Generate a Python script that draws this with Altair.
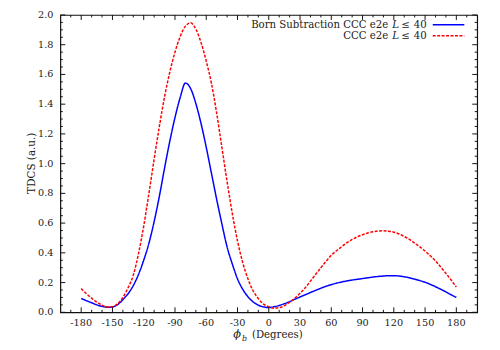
import altair as alt
import pandas as pd

# ---- data ----
phi = list(range(-180, 181, 5))
blue_val = [0.093, 0.078, 0.064, 0.050, 0.040, 0.034, 0.036, 0.052, 0.085, 0.125,
            0.18, 0.255, 0.35, 0.465, 0.61, 0.78, 0.97, 1.15, 1.31, 1.445,
            1.542, 1.505, 1.405, 1.27, 1.11, 0.935, 0.76, 0.595, 0.44, 0.325,
            0.225, 0.155, 0.105, 0.07, 0.048, 0.036, 0.032, 0.037, 0.046, 0.058,
            0.072, 0.088, 0.103, 0.118, 0.133, 0.148, 0.162, 0.175, 0.186, 0.196,
            0.204, 0.211, 0.217, 0.222, 0.227, 0.232, 0.237, 0.241, 0.244, 0.246,
            0.246, 0.244, 0.239, 0.232, 0.223, 0.213, 0.202, 0.188, 0.172, 0.155,
            0.137, 0.118, 0.10]
red_val = [0.16, 0.125, 0.095, 0.068, 0.048, 0.036, 0.038, 0.058, 0.10, 0.165,
           0.25, 0.395, 0.58, 0.80, 1.03, 1.25, 1.45, 1.615, 1.75, 1.855,
           1.925, 1.947, 1.905, 1.815, 1.69, 1.54, 1.34, 1.11, 0.88, 0.665,
           0.48, 0.335, 0.225, 0.145, 0.092, 0.055, 0.038, 0.028, 0.031, 0.045,
           0.068, 0.095, 0.128, 0.165, 0.21, 0.255, 0.30, 0.343, 0.384, 0.414,
           0.442, 0.468, 0.49, 0.508, 0.522, 0.534, 0.542, 0.547, 0.548, 0.545,
           0.539, 0.527, 0.51, 0.49, 0.465, 0.44, 0.412, 0.38, 0.345, 0.305,
           0.262, 0.217, 0.17]

series_names = ["Born Subtraction CCC e2e L <= 40", "CCC e2e L <= 40"]
series_colors = ["#0000ff", "#ff0000"]

x_major = [-180, -150, -120, -90, -60, -30, 0, 30, 60, 90, 120, 150, 180]
x_labels = ["-180", "-150", "-120", "-90", "-60", "-30", "0", "30", "60", "90",
            "120", "150", "180"]
x_minor = [v for v in range(-190, 200, 10) if v not in x_major]
y_major = [0.0, 0.2, 0.4, 0.6, 0.8, 1.0, 1.2, 1.4, 1.6, 1.8, 2.0]
y_labels = ["0.0", "0.2", "0.4", "0.6", "0.8", "1.0", "1.2", "1.4", "1.6", "1.8", "2.0"]
y_minor = [round(i * 0.05, 2) for i in range(1, 40) if i % 4 != 0]

W, H = 422, 301
FONT = "DejaVu Serif"
TXT = "#222222"

df = pd.concat([
    pd.DataFrame({"phi": phi, "v": blue_val, "s": series_names[0]}),
    pd.DataFrame({"phi": phi, "v": red_val, "s": series_names[1]}),
])

xs = alt.Scale(domain=[-200, 200], nice=False, zero=False)
ys = alt.Scale(domain=[0, 2], nice=False, zero=False)

lines = alt.Chart(df).mark_line(interpolate="monotone", strokeWidth=1.5).encode(
    x=alt.X("phi:Q", scale=xs, axis=None),
    y=alt.Y("v:Q", scale=ys, axis=None),
    color=alt.Color("s:N", scale=alt.Scale(domain=series_names, range=series_colors),
                    legend=None),
    strokeDash=alt.StrokeDash("s:N", scale=alt.Scale(domain=series_names,
                                                     range=[[1, 0], [3, 1.5]]),
                              legend=None),
)

def xticks(vals, L):
    d = pd.DataFrame({"phi": vals})
    b = alt.Chart(d).mark_rule(color="#111", strokeWidth=1).encode(
        x="phi:Q", y=alt.value(H), y2=alt.value(H - L))
    t = alt.Chart(d).mark_rule(color="#111", strokeWidth=1).encode(
        x="phi:Q", y=alt.value(0), y2=alt.value(L))
    return b + t

def yticks(vals, L):
    d = pd.DataFrame({"v": vals})
    l = alt.Chart(d).mark_rule(color="#111", strokeWidth=1).encode(
        y="v:Q", x=alt.value(0), x2=alt.value(L))
    r = alt.Chart(d).mark_rule(color="#111", strokeWidth=1).encode(
        y="v:Q", x=alt.value(W), x2=alt.value(W - L))
    return l + r

# tick labels through the scales
xlab = alt.Chart(pd.DataFrame({"phi": x_major, "lab": x_labels})).mark_text(
    font=FONT, fontSize=9.8, color=TXT, align="center", baseline="middle"
).encode(x="phi:Q", y=alt.value(H + 11), text="lab:N")
ylab = alt.Chart(pd.DataFrame({"v": y_major, "lab": y_labels})).mark_text(
    font=FONT, fontSize=9.8, color=TXT, align="right", baseline="middle"
).encode(y="v:Q", x=alt.value(-7), text="lab:N")

one = pd.DataFrame({"a": [0]})

def txt(s, x, y, align="left", italic=False, size=10.3, baseline="middle", angle=0):
    return alt.Chart(one).mark_text(
        text=s, align=align, baseline=baseline, font=FONT, fontSize=size,
        fontStyle="italic" if italic else "normal", color=TXT, angle=angle
    ).encode(x=alt.value(x), y=alt.value(y))

# legend
leg = []
for row_y, main, col, dash in [(10, "Born Subtraction CCC e2e", series_colors[0], [1, 0]),
                               (21, "CCC e2e", series_colors[1], [3, 1.5])]:
    leg.append(txt(main, 332, row_y, align="right"))
    leg.append(txt("L", 336, row_y, align="left", italic=True))
    leg.append(txt("\u2264", 345, row_y, align="left"))
    leg.append(txt("40", 371, row_y, align="right"))
    leg.append(alt.Chart(one).mark_rule(color=col, strokeWidth=1.5, strokeDash=dash).encode(
        x=alt.value(377), x2=alt.value(409), y=alt.value(row_y)))

# axis titles
titles = [
    txt("\u03d5", 179, 324, align="center", italic=True, size=11.5),
    txt("b", 184, 328, align="left", italic=True, size=8),
    txt("(Degrees)", 194, 324.5, align="left", size=10.3),
    txt("TDCS (a.u.)", -29, 150, align="center", size=10.5, angle=270),
]

chart = alt.layer(
    lines,
    xticks(x_major, 5), xticks(x_minor, 2.5),
    yticks(y_major, 5), yticks(y_minor, 2.5),
    xlab, ylab,
    *leg, *titles
).properties(
    width=W, height=H,
    autosize=alt.AutoSizeParams(type="none"),
    padding={"left": 53, "top": 5, "right": 15, "bottom": 28},
).configure_view(stroke="#111", strokeWidth=1.2)

chart.save("out.html", embed_options={"renderer": "svg", "actions": False})
